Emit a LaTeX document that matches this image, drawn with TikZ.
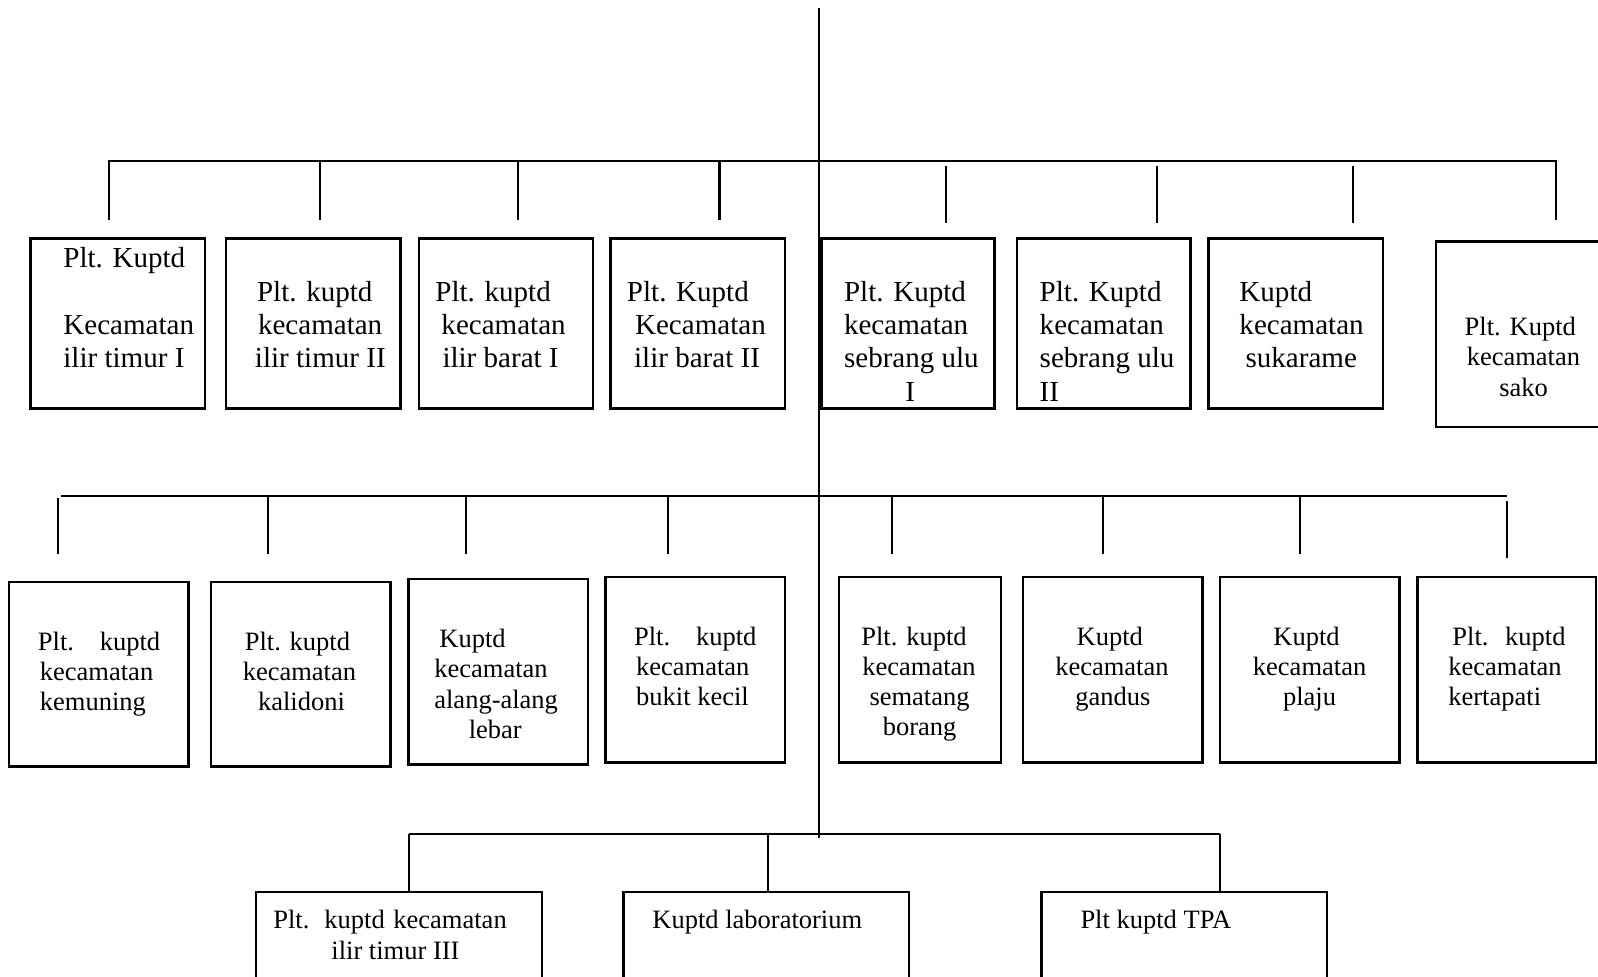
\documentclass[tikz,border=0pt]{standalone}
\usepackage{fontspec}
\setmainfont{Liberation Serif}
\usetikzlibrary{fit}
\begin{document}
\begin{tikzpicture}[x=1pt,y=-1pt,
  box/.style={draw, line width=2.4pt, inner sep=0pt},
  conn/.style={line width=2pt},
  ta/.style={inner sep=0pt, anchor=base west, font=\fontsize{28.5}{33}\selectfont},
  tac/.style={ta, anchor=base},
  tb/.style={inner sep=0pt, anchor=base west, font=\fontsize{26}{30}\selectfont},
  tbc/.style={tb, anchor=base}]
\useasboundingbox (0,0) rectangle (1568,958);
\clip (0,0) rectangle (1568,958);

% ---------- boxes, row 1
\node[box, fit={(30,234) (201,401)}] (b1) {};
\node[box, fit={(222,234) (393,401)}] (b2) {};
\node[box, fit={(411,234) (582,401)}] (b3) {};
\node[box, fit={(599,234) (770,401)}] (b4) {};
\node[box, fit={(806,234) (976,401)}] (b5) {};
\node[box, fit={(998,234) (1168,401)}] (b6) {};
\node[box, fit={(1186,234) (1357,401)}] (b7) {};
\node[box, fit={(1409,237) (1590,419)}] (b8) {};
% ---------- boxes, row 2
\node[box, fit={(9,571) (185,752)}] (c1) {};
\node[box, fit={(207,571) (383,752)}] (c2) {};
\node[box, fit={(401,568) (577,750)}] (c3) {};
\node[box, fit={(594,566) (770,748)}] (c4) {};
\node[box, fit={(823,566) (982,748)}] (c5) {};
\node[box, fit={(1004,566) (1180,748)}] (c6) {};
\node[box, fit={(1197,566) (1373,748)}] (c7) {};
\node[box, fit={(1391,566) (1566,748)}] (c8) {};
% ---------- boxes, row 3
\node[box, fit={(251,875) (532,1000)}] (d1) {};
\node[box, fit={(612,875) (892,1000)}] (d2) {};
\node[box, fit={(1022,875) (1302,1000)}] (d3) {};

% ---------- connectors
\coordinate (top) at (804,8);
\coordinate (bot) at (804,822);
\draw[conn] (top) -- (bot);

\coordinate (h1l) at (107,158);
\coordinate (h1r) at (1527,158);
\draw[conn] (107,216) -- (h1l) -- (h1r) -- (1527,216);
\foreach \x in {314,508,706} \draw[conn] (\x,158) -- (\x,216);
\foreach \x in {928,1135,1328} \draw[conn] (\x,163) -- (\x,219);

\coordinate (h2l) at (60,487);
\coordinate (h2r) at (1479,487);
\draw[conn] (h2l) -- (h2r);
\draw[conn] (57,489) -- (57,544);
\foreach \x in {263,457,655,875,1082,1276} \draw[conn] (\x,487) -- (\x,544);
\draw[conn] (1479,492) -- (1479,548);

\coordinate (h3l) at (401,818);
\coordinate (h3m) at (754,818);
\coordinate (h3r) at (1197,818);
\draw[conn] (h3l) -- (h3r);
\draw[conn] (h3l) -- (d1.north -| h3l);
\draw[conn] (h3m) -- (d2.north -| h3m);
\draw[conn] (h3r) -- (d3.north -| h3r);

% ---------- texts, row 1
\node[ta] (b1a) at (62,262) {Plt. Kuptd};
\node[ta] (b1b) at (62,328) {Kecamatan};
\node[ta] (b1c) at (62,361) {ilir timur I};

\node[ta] (b2a) at (252,296) {Plt. kuptd};
\node[ta] (b2b) at (253,328) {kecamatan};
\node[ta] (b2c) at (250,361) {ilir timur II};

\node[ta] (b3a) at (427,296) {Plt. kuptd};
\node[ta] (b3b) at (433,328) {kecamatan};
\node[ta] (b3c) at (434,361) {ilir barat I};

\node[ta] (b4a) at (615,296) {Plt. Kuptd};
\node[ta] (b4b) at (623,328) {Kecamatan};
\node[ta] (b4c) at (622,361) {ilir barat II};

\node[ta] (b5a) at (828,296) {Plt. Kuptd};
\node[ta] (b5b) at (828,328) {kecamatan};
\node[ta] (b5c) at (828,361) {sebrang ulu};
\node[tac] (b5d) at (893,394) {I};

\node[ta] (b6a) at (1020,296) {Plt. Kuptd};
\node[ta] (b6b) at (1020,328) {kecamatan};
\node[ta] (b6c) at (1020,361) {sebrang ulu};
\node[ta] (b6d) at (1020,394) {II};

\node[ta] (b7a) at (1216,296) {Kuptd};
\node[ta] (b7b) at (1216,328) {kecamatan};
\node[ta] (b7c) at (1222,361) {sukarame};

\node[tb] (b8a) at (1437,329) {Plt. Kuptd};
\node[tb] (b8b) at (1439,359) {kecamatan};
\node[tbc] (b8c) at (1495,389) {sako};

% ---------- texts, row 2
\node[tb] (c1a) at (37,638) {\makebox[120pt][s]{Plt. kuptd}};
\node[tb] (c1b) at (39,667.5) {kecamatan};
\node[tb] (c1c) at (39,697) {kemuning};

\node[tb] (c2a) at (240,638) {Plt. kuptd};
\node[tb] (c2b) at (238,667.5) {kecamatan};
\node[tb] (c2c) at (253,697) {kalidoni};

\node[tb] (c3a) at (431,635) {Kuptd};
\node[tb] (c3b) at (426,665) {kecamatan};
\node[tb] (c3c) at (426,695) {alang-alang};
\node[tbc] (c3d) at (486,725) {lebar};

\node[tb] (c4a) at (622,633) {\makebox[120pt][s]{Plt. kuptd}};
\node[tb] (c4b) at (624,662.5) {kecamatan};
\node[tb] (c4c) at (624,692.5) {bukit kecil};

\node[tb] (c5a) at (845,633) {Plt. kuptd};
\node[tb] (c5b) at (846,662.5) {kecamatan};
\node[tb] (c5c) at (853,692.5) {sematang};
\node[tb] (c5d) at (866,722) {borang};

\node[tbc] (c6a) at (1089,633) {Kuptd};
\node[tbc] (c6b) at (1091,662.5) {kecamatan};
\node[tbc] (c6c) at (1092,692.5) {gandus};

\node[tbc] (c7a) at (1282,633) {Kuptd};
\node[tbc] (c7b) at (1285,662.5) {kecamatan};
\node[tbc] (c7c) at (1285,692.5) {plaju};

\node[tb] (c8a) at (1425,633) {\makebox[111pt][s]{Plt. kuptd}};
\node[tb] (c8b) at (1421,662.5) {kecamatan};
\node[tb] (c8c) at (1421,692.5) {kertapati};

% ---------- texts, row 3
\node[tb] (d1a) at (268,911) {\makebox[229pt][s]{Plt. kuptd kecamatan}};
\node[tbc] (d1b) at (388,941) {ilir timur III};
\node[tb] (d2a) at (640,911) {Kuptd laboratorium};
\node[tb] (d3a) at (1060,911) {Plt kuptd TPA};
\end{tikzpicture}
\end{document}
